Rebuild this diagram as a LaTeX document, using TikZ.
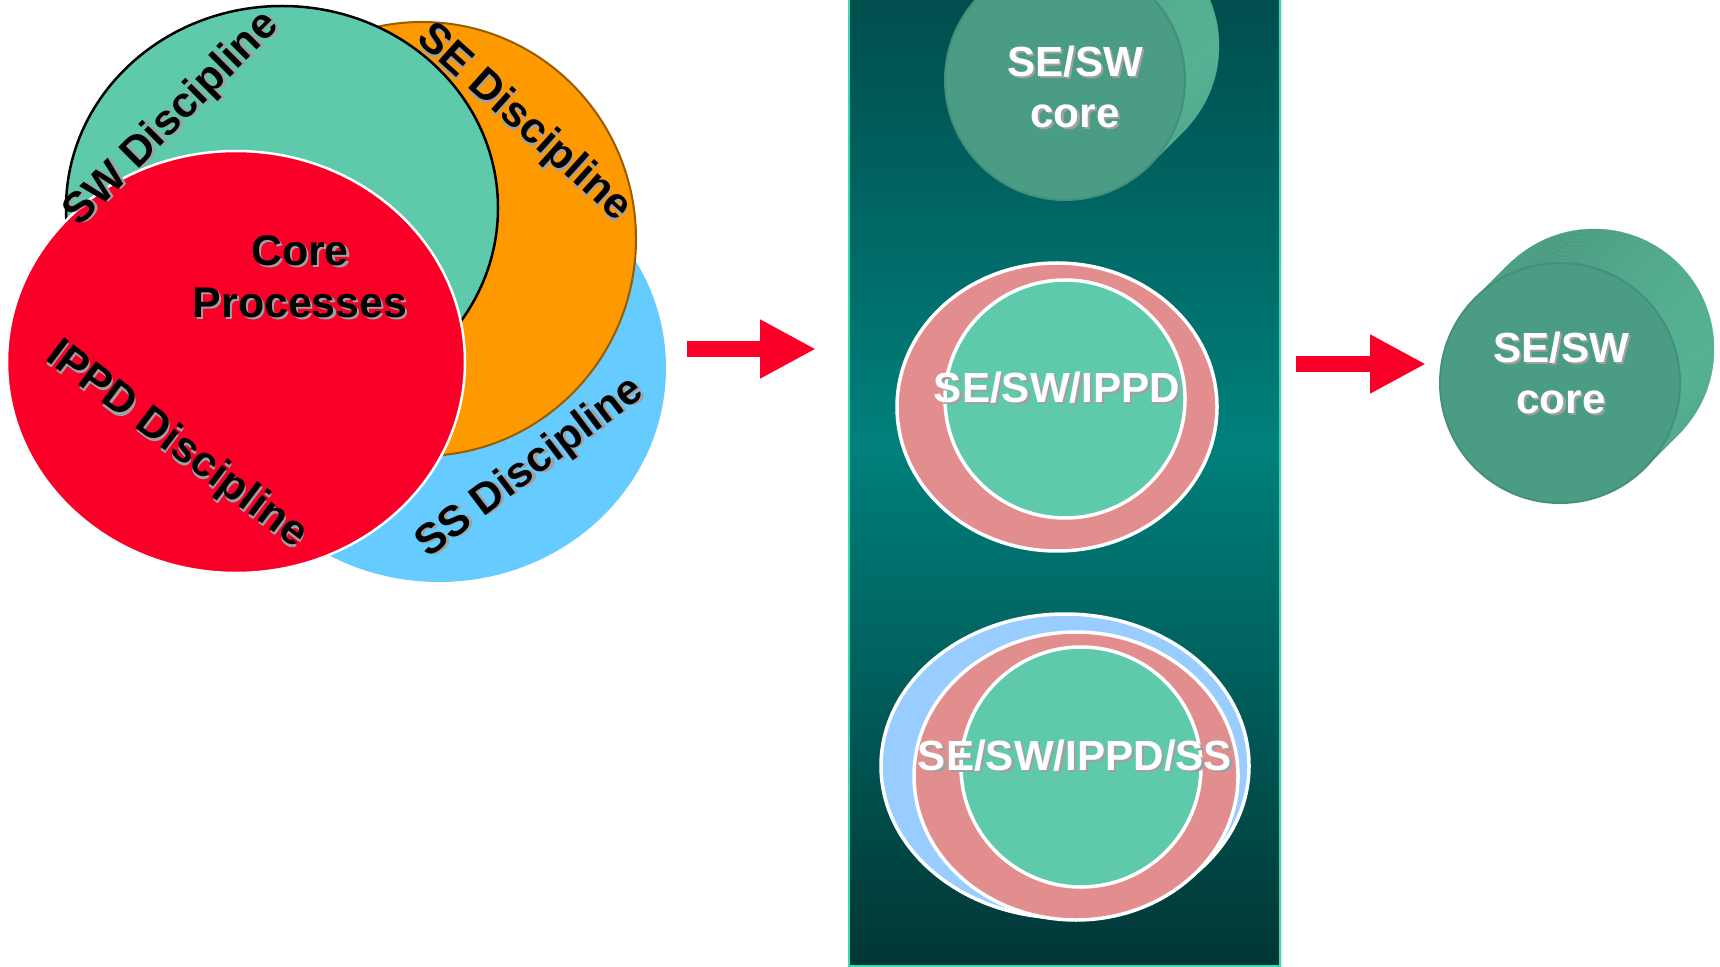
\documentclass[tikz,border=0pt]{standalone}
\usepackage{fontspec}
\setmainfont{Liberation Sans}
\usetikzlibrary{positioning, arrows.meta, shapes.geometric}
\definecolor{swgreen}{RGB}{94, 202, 171}
\definecolor{seorange}{RGB}{255, 153, 0}
\definecolor{ssblue}{RGB}{102, 204, 255}
\definecolor{ippdred}{RGB}{250, 0, 40}
\definecolor{ringpink}{RGB}{227, 142, 142}
\definecolor{ringblue}{RGB}{153, 204, 255}
\definecolor{cylfront}{RGB}{74, 156, 132}
\definecolor{cylside}{RGB}{88, 180, 150}
\definecolor{cyldark}{RGB}{62, 132, 112}
\definecolor{paneltop}{RGB}{0, 78, 77}
\definecolor{panelmid}{RGB}{0, 128, 124}
\definecolor{panelbot}{RGB}{0, 54, 53}
\definecolor{panelline}{RGB}{46, 224, 180}
\definecolor{shadowgray}{RGB}{160, 160, 160}
% only 25bp..75bp of the shading lands in the panel
\pgfdeclareverticalshading{panelshade}{100bp}{color(0bp)=(panelbot); color(25bp)=(panelbot);
    color(52bp)=(panelmid); color(75bp)=(paneltop); color(100bp)=(paneltop)}
\tikzset{
    discnode/.style={ellipse, inner sep=0pt, outer sep=0pt},
    disctext/.style={font=\fontsize{12.2}{14.8}\selectfont\bfseries, align=center},
    coretext/.style={font=\fontsize{12}{14.6}\selectfont\bfseries, align=center, text=white},
    ringnode/.style={discnode, draw=white, line width=0.35mm},
    cylnode/.style={circle, fill=cylfront, draw=cylfront!92!black, line width=0.2mm, inner sep=0pt, minimum size=24mm},
    cylslice/.style={left color=cyldark, right color=cylside, draw=cylside!80!cyldark, line width=0.1pt},
    bigarrow/.style={draw=ippdred, line width=1.65mm, -{Triangle[length=5.6mm, width=5.5mm]}}
}
% text with a grey drop shadow
\newcommand{\shd}[1]{\leavevmode\rlap{\kern0.22mm\raisebox{-0.22mm}{\textcolor{shadowgray}{#1}}}#1}

\begin{document}
\begin{tikzpicture}[x=0.1mm, y=-0.1mm]
    \useasboundingbox (0,0) rectangle (1720,967);

    % disciplines
    \node[discnode, fill=ssblue, minimum width=45.4mm, minimum height=42.8mm] (ss) at (439,368) {};
    \node[discnode, fill=seorange, draw=seorange!60!black, line width=0.2mm,
          minimum width=42.8mm, minimum height=43.4mm] (se) at (422,239) {};
    \node[discnode, fill=swgreen, draw=black, line width=0.25mm,
          minimum width=43.2mm, minimum height=40.4mm] (sw) at (282,208) {};
    \node[discnode, fill=ippdred, draw=white, line width=0.25mm,
          minimum width=45.8mm, minimum height=42.2mm] (ippd) at (236,362) {};

    \node[disctext, rotate=45] (swlabel) at (173,120) {\shd{SW Discipline}};
    \node[disctext, rotate=-42] (selabel) at (523,124) {\shd{SE Discipline}};
    \node[disctext, rotate=-37] (ippdlabel) at (176,446) {\shd{IPPD Discipline}};
    \node[disctext, rotate=37] (sslabel) at (531,469) {\shd{SS Discipline}};
    \node[disctext] (corelabel) at (300,278) {\shd{Core}\\\shd{Processes}};

    % panel
    \shade[shading=panelshade] (848,0) rectangle (1281,967);
    \draw[panelline, line width=0.25mm] (849,-5) -- (849,966) -- (1280,966) -- (1280,-5);

    \begin{scope}
        \clip (850,0) rectangle (1279,967);
        \foreach \k in {0,...,23}
            \draw[cylslice] ({1099-1.417*\k},{46+1.417*\k}) circle[radius=12mm];
        \node[cylnode] (core1) at (1065,80) {};
    \end{scope}
    \node[coretext] (core1text) at (1075,88) {\shd{SE/SW}\\\shd{core}};

    \node[ringnode, fill=ringpink, minimum width=32mm, minimum height=28.8mm] (ring2out) at (1057,407) {};
    \node[ringnode, fill=swgreen, minimum width=24mm, minimum height=23.8mm] (ring2in) at (1065,399) {};
    \node[coretext] (ring2text) at (1057,389) {\shd{SE/SW/IPPD}};

    \node[ringnode, fill=ringblue, minimum width=36.8mm, minimum height=30.4mm] (ring3out) at (1065,766) {};
    \node[ringnode, fill=ringpink, minimum width=32.4mm, minimum height=28.8mm] (ring3mid) at (1076,776) {};
    \node[ringnode, fill=swgreen, minimum width=24mm, minimum height=24mm] (ring3in) at (1081,767) {};
    \node[coretext] (ring3text) at (1075,757) {\shd{SE/SW/IPPD/SS}};

    % result
    \foreach \k in {0,...,23}
        \draw[cylslice] ({1594-1.417*\k},{349+1.417*\k}) circle[radius=12mm];
    \node[cylnode] (core2) at (1560,383) {};
    \node[coretext] (core2text) at (1561,374) {\shd{SE/SW}\\\shd{core}};

    % arrows
    \coordinate (arr1s) at (687,349);
    \coordinate (arr1e) at (816,349);
    \coordinate (arr2s) at (1296,364);
    \coordinate (arr2e) at (1426,364);
    \draw[bigarrow] (arr1s) -- (arr1e);
    \draw[bigarrow] (arr2s) -- (arr2e);
\end{tikzpicture}
\end{document}
